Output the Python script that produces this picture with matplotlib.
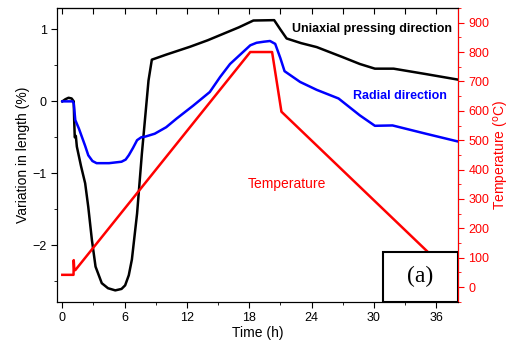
import matplotlib.pyplot as plt
import numpy as np
from matplotlib.patches import Rectangle
from matplotlib.ticker import MultipleLocator

plt.rcParams['font.family'] = ['Liberation Sans', 'DejaVu Sans']

# Uniaxial pressing direction (black)
t_uni = [0, 0.3, 0.6, 0.9, 1.1, 1.15, 1.2, 1.3, 1.4, 1.8, 2.2, 2.5, 2.85, 3.2, 3.8, 4.4,
         5.1, 5.7, 6.05, 6.4, 6.7, 7.2, 7.66, 8.3, 8.62, 10, 12.3, 14, 15.5, 17, 18.4,
         20.4, 21.0, 21.6, 23, 24.5, 27, 28.65, 30.1, 31.9, 35, 38.0]
v_uni = [0, 0.03, 0.05, 0.04, 0, -0.3, -0.5, -0.48, -0.63, -0.9, -1.14, -1.47, -1.93, -2.3,
         -2.53, -2.6, -2.63, -2.61, -2.56, -2.42, -2.2, -1.56, -0.73, 0.29, 0.58, 0.65, 0.76,
         0.85, 0.94, 1.03, 1.125, 1.13, 1.0, 0.875, 0.81, 0.755, 0.615, 0.52, 0.455, 0.455,
         0.38, 0.305]

# Radial direction (blue)
t_rad = [0, 1.0, 1.1, 1.25, 1.6, 1.9, 2.2, 2.5, 2.9, 3.3, 4.5, 5.7, 6.1, 6.4, 6.8, 7.2, 7.6,
         8.0, 8.9, 10, 11.0, 12.6, 14.2, 15.2, 16.15, 17.2, 18.1, 18.7, 19.4, 20.0, 20.5,
         21.0, 21.4, 22.9, 24.5, 26.6, 28.65, 30.1, 31.8, 35, 38.0]
v_rad = [0, 0, -0.03, -0.26, -0.38, -0.5, -0.62, -0.75, -0.83, -0.86, -0.86, -0.84, -0.81,
         -0.75, -0.65, -0.54, -0.5, -0.49, -0.45, -0.36, -0.24, -0.06, 0.13, 0.34, 0.52,
         0.66, 0.78, 0.815, 0.83, 0.84, 0.8, 0.6, 0.42, 0.27, 0.16, 0.04, -0.195, -0.34,
         -0.335, -0.45, -0.555]

# Temperature (red)
t_temp = [0, 1.08, 1.1, 1.15, 1.25, 18.1, 20.2, 21.1, 38.0]
temp = [42, 42, 92, 62, 58, 800, 800, 597, 25]

fig, ax = plt.subplots(figsize=(5.1, 3.45), dpi=100)
fig.subplots_adjust(left=0.112, right=0.898, bottom=0.125, top=0.977)

ax.plot(t_uni, v_uni, color='black', lw=1.8)
ax.plot(t_rad, v_rad, color='blue', lw=1.8)
ax.set_xlim(-0.5, 38.1)
ax.set_ylim(-2.79, 1.3)
ax.set_xticks([0, 6, 12, 18, 24, 30, 36])
ax.xaxis.set_minor_locator(MultipleLocator(3))
ax.set_yticks([-2, -1, 0, 1])
ax.yaxis.set_minor_locator(MultipleLocator(0.5))
ax.tick_params(which='major', length=4, labelsize=9, direction='out')
ax.tick_params(which='minor', length=2.5, direction='out')
ax.set_xlabel('Time (h)', fontsize=10, labelpad=1)
ax.set_ylabel('Variation in length (%)', fontsize=10, labelpad=2)

top = ax.secondary_xaxis('top')
top.set_xticks([0, 3, 6, 9, 12, 15, 18, 21, 24, 27, 30, 33, 36])
top.tick_params(direction='in', length=4, labeltop=False)

ax2 = ax.twinx()
ax2.plot(t_temp, temp, color='red', lw=1.8)
ax2.set_ylim(-50, 950)
ax2.set_yticks(range(0, 901, 100))
ax2.yaxis.set_minor_locator(MultipleLocator(50))
ax2.tick_params(which='major', length=4, labelsize=9, colors='red')
ax2.tick_params(which='minor', length=2.5, colors='red')
ax2.spines['right'].set_color('red')
ax2.set_ylabel('Temperature ($^{\\rm o}$C)', color='red', fontsize=10, labelpad=2)

ax.text(37.5, 1.0, 'Uniaxial pressing direction', fontsize=9, fontweight='bold',
        ha='right', va='center', color='black')
ax.text(37.0, 0.07, 'Radial direction', fontsize=9, fontweight='bold',
        ha='right', va='center', color='blue')
ax.text(17.9, -1.15, 'Temperature', fontsize=10, ha='left', va='center', color='red')

ax2.add_patch(Rectangle((0.813, 0), 0.187, 0.17, transform=ax2.transAxes,
                        facecolor='white', edgecolor='black', lw=1.5, zorder=5))
ax2.text(0.906, 0.085, '(a)', transform=ax2.transAxes, fontsize=17,
         family='Liberation Serif', ha='center', va='center', zorder=6)

fig.savefig('out.png', dpi=100)
